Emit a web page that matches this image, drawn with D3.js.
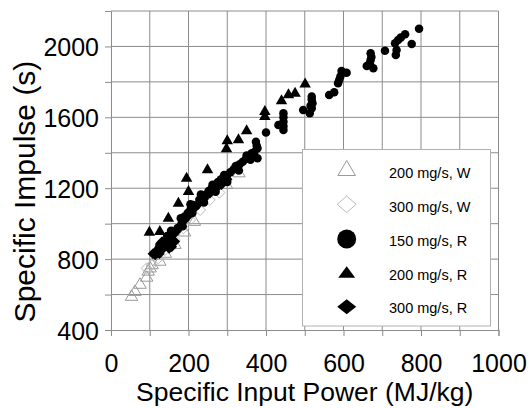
<!DOCTYPE html>
<html>
<head>
<meta charset="utf-8">
<script src="https://cdn.jsdelivr.net/npm/d3@7"></script>
<style>
  body { margin: 0; background: #fff; }
  text { font-family: "Liberation Sans", Arial, Helvetica, sans-serif; fill: #000; }
</style>
</head>
<body>
<div id="chart"></div>
<script>
// Axis ticks and labels
const xTicks = [0, 200, 400, 600, 800, 1000];
const yTicks = [400, 800, 1200, 1600, 2000];
const xLabel = 'Specific Input Power (MJ/kg)';
const yLabel = 'Specific Impulse (s)';
const seriesNames = ['200 mg/s, W', '300 mg/s, W', '150 mg/s, R', '200 mg/s, R', '300 mg/s, R'];

// [specific input power (MJ/kg), specific impulse (s)]
const w200 = [[53,597],[62,625],[75,665],[92,705],[96,739],[101,757],[106,775],[126,795],[140,840],
    [165,890],[190,960],[215,1020],[298,1228],[330,1294]];
const w300 = [[92,748],[105,767],[122,804],[139,851],[165,908],[187,974],[204,1021],[230,1077],
    [255,1134],[280,1175]];
const r150 = [[120,835],[130,860],[138,880],[150,905],[160,945],[172,975],[182,1000],[190,1040],
    [198,1060],[205,1080],[212,1105],[220,1100],[228,1135],[236,1150],[245,1165],[252,1185],
    [260,1200],[268,1215],[276,1235],[284,1250],[292,1262],[300,1275],[308,1290],[316,1305],
    [324,1320],[332,1335],[340,1350],[348,1365],[356,1375],[364,1390],[370,1405],
    [180,1030],[205,1110],[232,1165],[262,1220],[292,1275],[322,1325],[350,1385],
    [185,985],[210,1060],[240,1120],[270,1180],[300,1235],[330,1300],[360,1360],
    [125,880],[145,930],[155,960],
    [374,1462],[376,1440],[378,1425],[378,1369],[363,1397],
    [400,1514],[432,1557],[445,1623],[445,1600],[445,1575],[445,1550],[445,1529],
    [496,1641],[518,1717],[520,1679],[518,1651],[513,1623],[518,1700],[515,1665],
    [563,1726],[576,1741],[589,1811],[586,1792],[595,1862],[608,1852],[592,1830],
    [660,1890],[670,1961],[670,1924],[677,1877],[668,1905],[672,1940],
    [707,1976],[733,2018],[737,1980],[735,1952],[741,2036],[759,2069],[748,2050],[776,2014],[795,2100]];
const r200 = [[99,960],[126,964],[148,1039],[174,1124],[200,1190],[195,1265],[249,1312],[298,1431],
    [300,1476],[329,1482],[350,1533],[397,1613],[397,1641],[440,1702],[458,1736],[475,1745],[501,1796]];
const r300 = [[114,823],[118,850],[126,870],[132,900],[140,885],[144,908],[152,925],[157,870],
    [162,940],[170,960],[180,990],[190,1020],[200,1045],[212,1080],[225,1110],[240,1140],
    [255,1170],[270,1195],[285,1220],[300,1250],
    [108,830],[125,830],[135,860],[150,860],[165,900]];

const width = 530, height = 408;
const plot = {left: 111, right: 498.5, top: 11, bottom: 330};
const gridColor = '#8c8c8c';

const svg = d3.select('#chart')
    .append('svg')
    .attr('width', width)
    .attr('height', height);

const x = d3.scaleLinear().domain([0, 1000]).range([plot.left, plot.right]);
const y = d3.scaleLinear().domain([400, 2200]).range([plot.bottom, plot.top]);

// Grid lines
svg.append('g')
    .selectAll('line')
    .data(d3.range(100, 1001, 100))
    .join('line')
    .attr('x1', d => x(d)).attr('x2', d => x(d))
    .attr('y1', plot.top).attr('y2', plot.bottom)
    .attr('stroke', gridColor).attr('stroke-width', 1);

svg.append('g')
    .selectAll('line')
    .data(d3.range(600, 2201, 200))
    .join('line')
    .attr('x1', plot.left).attr('x2', plot.right)
    .attr('y1', d => y(d)).attr('y2', d => y(d))
    .attr('stroke', gridColor).attr('stroke-width', 1);

// Axes
const xAxis = svg.append('g')
    .attr('transform', `translate(0,${plot.bottom})`)
    .call(d3.axisBottom(x).tickValues(d3.range(0, 1001, 100)).tickSize(6).tickPadding(18)
        .tickFormat(d => xTicks.includes(d) ? d : ''));
const yAxis = svg.append('g')
    .attr('transform', `translate(${plot.left},0)`)
    .call(d3.axisLeft(y).tickValues(d3.range(400, 2201, 200)).tickSize(6).tickPadding(6)
        .tickFormat(d => yTicks.includes(d) ? d : ''));

[xAxis, yAxis].forEach(a => {
    a.select('.domain').attr('stroke', gridColor);
    a.selectAll('.tick line').attr('stroke', gridColor);
    a.selectAll('text')
        .style('font-family', '"Liberation Sans", Arial, sans-serif')
        .style('font-size', '25px')
        .attr('fill', '#000');
});
yAxis.selectAll('text').attr('dy', '0.36em');

// Axis labels
svg.append('text')
    .attr('x', (plot.left + plot.right) / 2)
    .attr('y', 401)
    .attr('text-anchor', 'middle')
    .style('font-size', '26.5px')
    .text(xLabel);

svg.append('text')
    .attr('transform', `translate(35,${(60 + 323) / 2}) rotate(-90)`)
    .attr('text-anchor', 'middle')
    .style('font-size', '30px')
    .text(yLabel);

// Marker shapes, centred on 0,0
function shapePath(type, w, h) {
    if (type === 'triangle') return `M0,${-h / 2}L${w / 2},${h / 2}L${-w / 2},${h / 2}Z`;
    if (type === 'diamond') return `M0,${-h / 2}L${w / 2},0L0,${h / 2}L${-w / 2},0Z`;
    const r = w / 2;
    return `M${-r},0A${r},${r} 0 1,0 ${r},0A${r},${r} 0 1,0 ${-r},0Z`;
}

const series = [
    {name: seriesNames[0], data: w200, type: 'triangle', fill: 'none', stroke: '#9a9a9a', size: [12.5, 10.5], legend: [17.5, 15]},
    {name: seriesNames[1], data: w300, type: 'diamond', fill: 'none', stroke: '#bdbdbd', size: [11, 11], legend: [19, 16.5]},
    {name: seriesNames[2], data: r150, type: 'circle', fill: '#000', stroke: 'none', size: [8.5, 8.5], legend: [19, 19]},
    {name: seriesNames[3], data: r200, type: 'triangle', fill: '#000', stroke: 'none', size: [11.5, 10], legend: [17, 11.5]},
    {name: seriesNames[4], data: r300, type: 'diamond', fill: '#000', stroke: 'none', size: [10.5, 10.5], legend: [19, 15]}
];

// Points
const drawOrder = [0, 1, 4, 2, 3];
drawOrder.forEach(i => {
    const s = series[i];
    svg.append('g')
        .selectAll('path')
        .data(s.data)
        .join('path')
        .attr('transform', d => `translate(${x(d[0])},${y(d[1])})`)
        .attr('d', shapePath(s.type, s.size[0], s.size[1]))
        .attr('fill', s.fill)
        .attr('stroke', s.stroke)
        .attr('stroke-width', 1);
});

// Legend
const legend = svg.append('g').attr('class', 'legend');
legend.append('rect')
    .attr('x', 302.5).attr('y', 149.5)
    .attr('width', 188).attr('height', 176.5)
    .attr('fill', '#fff')
    .attr('stroke', '#b0b0b0');

const rowY = [168, 204.3, 239, 272, 306.7];
const textY = [178.3, 212.3, 245.7, 280, 312.7];
series.forEach((s, i) => {
    legend.append('path')
        .attr('transform', `translate(346.7,${rowY[i]})`)
        .attr('d', shapePath(s.type, s.legend[0], s.legend[1]))
        .attr('fill', s.fill)
        .attr('stroke', s.stroke)
        .attr('stroke-width', 1);
    legend.append('text')
        .attr('x', 389)
        .attr('y', textY[i])
        .style('font-size', '14.5px')
        .text(s.name);
});
</script>
</body>
</html>
